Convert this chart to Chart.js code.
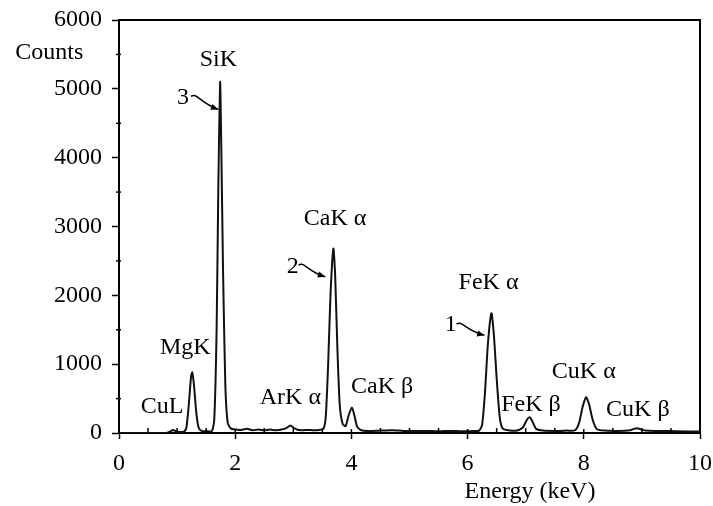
<!DOCTYPE html>
<html>
<head>
<meta charset="utf-8">
<script src="https://cdn.jsdelivr.net/npm/chart.js@4"></script>
<style>
  body { margin: 0; background: #fff; }
</style>
</head>
<body>
<canvas id="eds" width="713" height="506"></canvas>
<script>
// EDS spectrum
const energy = [0, 0.8, 0.88, 0.93, 0.98, 1.05, 1.12,
  1.16, 1.2, 1.24, 1.26, 1.29, 1.33, 1.37, 1.42, 1.5, 1.6,
  1.64, 1.68, 1.71, 1.74, 1.76, 1.79, 1.83, 1.87, 1.92, 2.0, 2.1, 2.2, 2.3, 2.4, 2.5, 2.6, 2.7, 2.8, 2.88, 2.95, 3.0, 3.06, 3.15, 3.25, 3.35, 3.45, 3.52,
  3.56, 3.6, 3.64, 3.69, 3.72, 3.76, 3.8, 3.85, 3.9,
  3.95, 4.01, 4.05, 4.1, 4.17, 4.3, 4.5, 4.7, 4.9, 5.1, 5.3, 5.5, 5.7, 5.9, 6.1, 6.2,
  6.25, 6.3, 6.35, 6.41, 6.45, 6.5, 6.55, 6.6, 6.7, 6.85,
  6.95, 7.02, 7.07, 7.12, 7.18, 7.3, 7.5, 7.7, 7.85,
  7.92, 7.98, 8.04, 8.09, 8.15, 8.22, 8.35, 8.6, 8.8,
  8.86, 8.92, 8.98, 9.06, 9.3, 9.6, 10];
const counts = [0, 0, 20, 45, 25, 15, 20,
  80, 400, 820, 880, 700, 300, 80, 30, 25, 30,
  200, 1500, 3600, 5100, 4200, 2400, 700, 150, 70, 50, 45, 60, 40, 50, 40, 50, 40, 50, 70, 110, 80, 50, 40, 45, 40, 45, 60,
  250, 1000, 2000, 2680, 2300, 1200, 400, 130, 100,
  250, 370, 260, 90, 40, 30, 35, 40, 30, 30, 30, 25, 30, 25, 30, 35,
  120, 600, 1300, 1740, 1450, 800, 250, 70, 40, 35,
  80, 190, 230, 160, 60, 35, 30, 35, 40,
  150, 380, 520, 420, 200, 60, 35, 30, 40,
  60, 70, 55, 35, 30, 25, 20];

const peakNames = ['Counts', 'SiK', '3', 'MgK', 'CuL', 'ArK \u03b1', 'CaK \u03b1', '2', 'CaK \u03b2',
  'FeK \u03b1', '1', 'FeK \u03b2', 'CuK \u03b1', 'CuK \u03b2'];
const peakLabelX = [-1.2, 1.71, 1.1, 1.14, 0.74, 2.95, 3.72, 2.99, 4.53, 6.36, 5.71, 7.09, 8.0, 8.93];
const peakLabelY = [5520, 5420, 4870, 1235, 380, 510, 3120, 2410, 670, 2180, 1570, 410, 890, 335];

// arrows from the numbered labels to their peaks: [x0, y0, x1, y1]
const arrows = [
  [1.24, 4890, 1.71, 4700],
  [3.09, 2440, 3.55, 2270],
  [5.81, 1580, 6.29, 1420]
];

const serif = '"Liberation Serif", "DejaVu Serif", serif';

const frame = {
  id: 'frame',
  afterDraw(chart) {
    const { ctx, chartArea: a, scales: { x, y } } = chart;
    ctx.save();
    ctx.strokeStyle = '#000';
    ctx.lineWidth = 2;
    ctx.beginPath();
    ctx.moveTo(a.left, a.top);
    ctx.lineTo(a.right, a.top);
    ctx.lineTo(a.right, a.bottom);
    ctx.stroke();

    // minor ticks point inwards, major ticks poke in a little too
    ctx.lineWidth = 1.5;
    x.ticks.forEach(t => {
      const px = x.getPixelForValue(t.value);
      const len = t.value % 2 === 0 ? 4 : 5;
      ctx.beginPath();
      ctx.moveTo(px, a.bottom);
      ctx.lineTo(px, a.bottom - len);
      ctx.stroke();
    });
    y.ticks.forEach(t => {
      if (t.value % 1000 === 0) return;
      const py = y.getPixelForValue(t.value);
      ctx.beginPath();
      ctx.moveTo(a.left - 3, py);
      ctx.lineTo(a.left + 2, py);
      ctx.stroke();
    });

    // labels
    ctx.fillStyle = '#000';
    ctx.textAlign = 'center';
    ctx.textBaseline = 'middle';
    ctx.font = '24px ' + serif;
    peakNames.forEach((name, i) => {
      ctx.fillText(name, x.getPixelForValue(peakLabelX[i]), y.getPixelForValue(peakLabelY[i]));
    });
    ctx.fillText('Energy (keV)', 530, 492);

    // squiggly arrows
    ctx.lineWidth = 1.5;
    arrows.forEach(([x0, y0, x1, y1]) => {
      const sx = x.getPixelForValue(x0), sy = y.getPixelForValue(y0);
      const ex = x.getPixelForValue(x1), ey = y.getPixelForValue(y1);
      ctx.beginPath();
      ctx.moveTo(sx, sy);
      ctx.bezierCurveTo(sx + 6, sy - 4, sx + 8, sy + 6, ex, ey);
      ctx.stroke();
      const ang = Math.atan2(ey - (sy + 6), ex - (sx + 8));
      ctx.beginPath();
      ctx.moveTo(ex, ey);
      ctx.lineTo(ex - 8 * Math.cos(ang - 0.4), ey - 8 * Math.sin(ang - 0.4));
      ctx.lineTo(ex - 8 * Math.cos(ang + 0.4), ey - 8 * Math.sin(ang + 0.4));
      ctx.closePath();
      ctx.fill();
    });
    ctx.restore();
  }
};

const ctx = document.getElementById('eds').getContext('2d');

const edsChart = new Chart(ctx, {
  type: 'line',
  data: {
    datasets: [{
      data: energy.map((e, i) => ({ x: e, y: counts[i] })),
      borderColor: '#111',
      borderWidth: 2,
      pointRadius: 0,
      tension: 0.2,
      fill: false
    }]
  },
  options: {
    responsive: false,
    animation: false,
    layout: { padding: { top: 20, right: 13, left: 0, bottom: 0 } },
    plugins: {
      legend: { display: false },
      tooltip: { enabled: false }
    },
    scales: {
      x: {
        type: 'linear',
        min: 0,
        max: 10,
        afterFit: s => { s.height = 73; s.paddingLeft = 0; s.paddingRight = 0; },
        ticks: {
          stepSize: 0.5,
          autoSkip: false,
          maxRotation: 0,
          padding: 10,
          color: '#000',
          font: { family: serif, size: 24 },
          callback: v => (v % 2 === 0 ? v : '')
        },
        grid: {
          drawOnChartArea: false,
          tickLength: 6,
          tickWidth: 1.5,
          tickColor: c => (c.tick && c.tick.value % 2 === 0 ? '#000' : 'rgba(0,0,0,0)')
        },
        border: { color: '#000', width: 2 }
      },
      y: {
        min: 0,
        max: 6000,
        afterFit: s => { s.width = 119; s.paddingTop = 0; s.paddingBottom = 0; },
        ticks: {
          stepSize: 500,
          autoSkip: false,
          padding: 10,
          color: '#000',
          font: { family: serif, size: 24 },
          callback: v => (v % 1000 === 0 ? v : '')
        },
        grid: {
          drawOnChartArea: false,
          tickLength: 7,
          tickWidth: 1.5,
          tickColor: c => (c.tick && c.tick.value % 1000 === 0 ? '#000' : 'rgba(0,0,0,0)')
        },
        border: { color: '#000', width: 2 }
      }
    }
  },
  plugins: [frame]
});
</script>
</body>
</html>
